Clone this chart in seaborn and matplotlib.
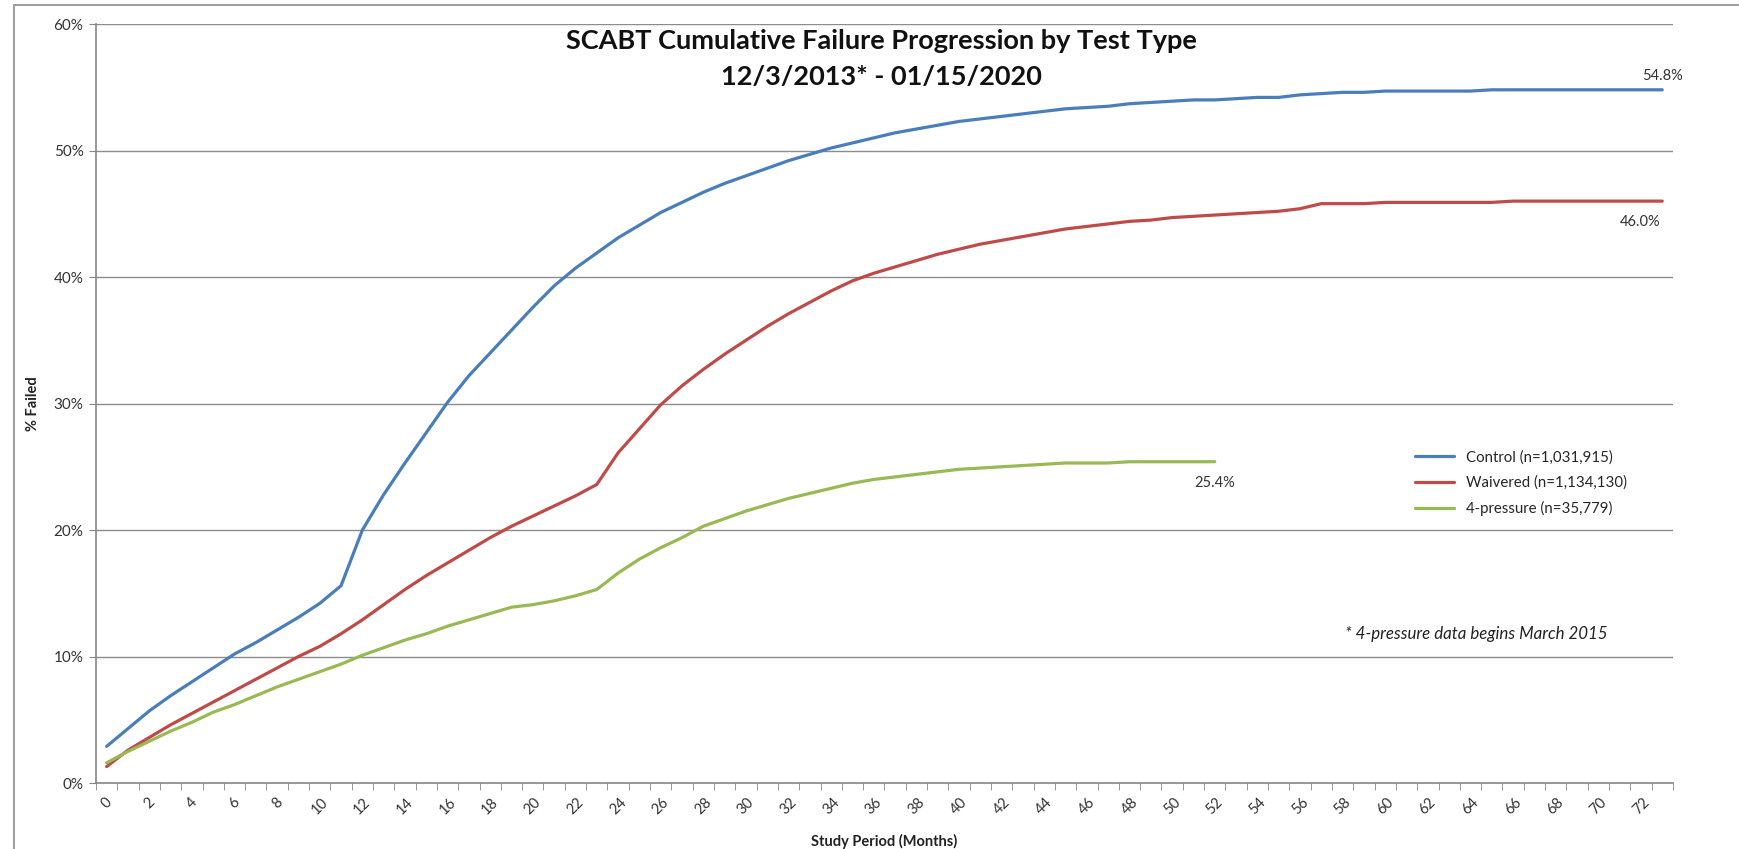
import numpy as np
import pandas as pd
import matplotlib
matplotlib.use("Agg")
import matplotlib.pyplot as plt
import seaborn as sns
from matplotlib.lines import Line2D
from matplotlib.ticker import FuncFormatter

# Cumulative % failed by month of study period
control = [2.9, 4.3, 5.7, 6.9, 8.0, 9.1, 10.2, 11.1, 12.1, 13.1, 14.2, 15.6,
           20.0, 22.8, 25.3, 27.7, 30.1, 32.2, 34.0, 35.8, 37.6, 39.3, 40.7, 41.9,
           43.1, 44.1, 45.1, 45.9, 46.7, 47.4, 48.0, 48.6, 49.2, 49.7, 50.2, 50.6,
           51.0, 51.4, 51.7, 52.0, 52.3, 52.5, 52.7, 52.9, 53.1, 53.3, 53.4, 53.5,
           53.7, 53.8, 53.9, 54.0, 54.0, 54.1, 54.2, 54.2, 54.4, 54.5, 54.6, 54.6,
           54.7, 54.7, 54.7, 54.7, 54.7, 54.8, 54.8, 54.8, 54.8, 54.8, 54.8, 54.8,
           54.8, 54.8]
waivered = [1.3, 2.6, 3.6, 4.6, 5.5, 6.4, 7.3, 8.2, 9.1, 10.0, 10.8, 11.8,
            12.9, 14.1, 15.3, 16.4, 17.4, 18.4, 19.4, 20.3, 21.1, 21.9, 22.7, 23.6,
            26.1, 28.0, 29.9, 31.4, 32.7, 33.9, 35.0, 36.1, 37.1, 38.0, 38.9, 39.7,
            40.3, 40.8, 41.3, 41.8, 42.2, 42.6, 42.9, 43.2, 43.5, 43.8, 44.0, 44.2,
            44.4, 44.5, 44.7, 44.8, 44.9, 45.0, 45.1, 45.2, 45.4, 45.8, 45.8, 45.8,
            45.9, 45.9, 45.9, 45.9, 45.9, 45.9, 46.0, 46.0, 46.0, 46.0, 46.0, 46.0,
            46.0, 46.0]
pressure4 = [1.6, 2.5, 3.3, 4.1, 4.8, 5.6, 6.2, 6.9, 7.6, 8.2, 8.8, 9.4,
             10.1, 10.7, 11.3, 11.8, 12.4, 12.9, 13.4, 13.9, 14.1, 14.4, 14.8, 15.3,
             16.6, 17.7, 18.6, 19.4, 20.3, 20.9, 21.5, 22.0, 22.5, 22.9, 23.3, 23.7,
             24.0, 24.2, 24.4, 24.6, 24.8, 24.9, 25.0, 25.1, 25.2, 25.3, 25.3, 25.3,
             25.4, 25.4, 25.4, 25.4, 25.4]

series_names = ["Control (n=1,031,915)", "Waivered (n=1,134,130)", "4-pressure (n=35,779)"]
series_colors = ["#4A7EBB", "#BE4B48", "#98B954"]
end_labels = ["54.8%", "46.0%", "25.4%"]

rows = []
for name, vals in zip(series_names, [control, waivered, pressure4]):
    for m, v in enumerate(vals):
        rows.append({"month": m, "pct": v, "series": name})
df = pd.DataFrame(rows)

sns.set_style("white")
plt.rcParams['font.family'] = ['Lato', 'DejaVu Sans']

fig = plt.figure(figsize=(17.39, 8.49), dpi=100)
ax = fig.add_axes([0.0552, 0.0777, 0.9068, 0.894])

sns.lineplot(data=df, x="month", y="pct", hue="series", palette=series_colors,
             linewidth=2.3, ax=ax)

ax.set_xlim(-0.5, 73.5)
ax.set_ylim(0, 60)
ax.set_yticks(range(0, 61, 10))
ax.yaxis.set_major_formatter(FuncFormatter(lambda v, p: f"{int(v)}%"))
ax.set_xticks(range(0, 73, 2))
ax.set_xticks(np.arange(-0.5, 74, 1), minor=True)
ax.tick_params(axis='x', which='major', length=0, labelsize=10.5, labelcolor='#333333',
               rotation=45, pad=9)
ax.tick_params(axis='x', which='minor', length=5, color='#868686', direction='out', bottom=True)
ax.tick_params(axis='y', length=5, color='#868686', direction='out', left=True,
               labelsize=11, labelcolor='#333333', pad=4)

ax.grid(axis='y', color='#8c8c8c', linewidth=1)
ax.set_axisbelow(True)
for side in ["top", "right"]:
    ax.spines[side].set_visible(False)
for side in ["left", "bottom"]:
    ax.spines[side].set_color('#868686')
    ax.spines[side].set_linewidth(1.2)

ax.set_xlabel("Study Period (Months)", fontsize=10.5, fontweight='bold', color='#222222',
              labelpad=12)
ax.set_ylabel("% Failed", fontsize=10.5, fontweight='bold', color='#222222', labelpad=10)

ax.legend(loc='center left', bbox_to_anchor=(0.828, 0.395), frameon=False,
          fontsize=10.8, handlelength=2.6, labelspacing=0.75, title=None)

# end-point value labels
offsets = [(0, 10), (-16, -15), (0, -15)]
for vals, lab, off in zip([control, waivered, pressure4], end_labels, offsets):
    ax.annotate(lab, xy=(len(vals) - 1, vals[-1]), xytext=off, textcoords='offset points',
                ha='center', va='center', fontsize=10.5, color='#333333')

ax.text(0.875, 0.196, "* 4-pressure data begins March 2015", transform=ax.transAxes,
        ha='center', va='center', fontsize=12.2, style='italic', color='#222222')

fig.text(0.507, 0.952, "SCABT Cumulative Failure Progression by Test Type",
         ha='center', va='center', fontsize=19.5, fontweight='bold', color='#111111')
fig.text(0.507, 0.909, "12/3/2013* - 01/15/2020",
         ha='center', va='center', fontsize=19.5, fontweight='bold', color='#111111')

# outer chart frame (left and top edges visible)
fig.add_artist(Line2D([0.008, 0.008], [0.0, 0.994], transform=fig.transFigure,
                      color='#a0a0a0', linewidth=1.5))
fig.add_artist(Line2D([0.008, 1.0], [0.994, 0.994], transform=fig.transFigure,
                      color='#a0a0a0', linewidth=1.5))

fig.savefig("out.png", dpi=100)
